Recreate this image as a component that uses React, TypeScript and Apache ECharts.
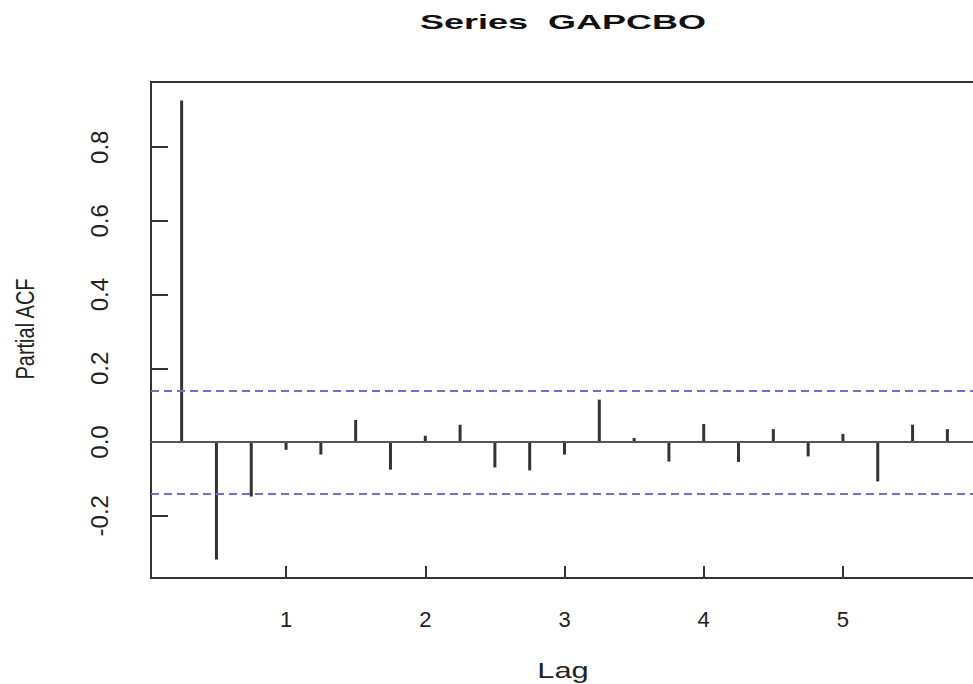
import React, { useEffect, useRef } from "react";
import * as echarts from "echarts";

const lags = [0.25, 0.5, 0.75, 1.0, 1.25, 1.5, 1.75, 2.0, 2.25, 2.5, 2.75, 3.0, 3.25, 3.5, 3.75, 4.0, 4.25, 4.5, 4.75, 5.0, 5.25, 5.5, 5.75];
const pacfValues = [0.927, -0.319, -0.148, -0.021, -0.034, 0.060, -0.075, 0.017, 0.047, -0.069, -0.077, -0.034, 0.115, 0.011, -0.053, 0.049, -0.054, 0.035, -0.039, 0.022, -0.107, 0.047, 0.035];
const confLimit = 0.135;
const xTicks = [1, 2, 3, 4, 5];
const yTicks = [-0.2, 0.0, 0.2, 0.4, 0.6, 0.8];
const titleText = "Series  GAPCBO";
const xName = "Lag";
const yName = "Partial ACF";

export default function App() {
  const ref = useRef<HTMLDivElement>(null);
  useEffect(() => {
    if (!ref.current) return;
    const chart = echarts.init(ref.current, null, { renderer: "svg" });
    const blue = "#6f6fd2";
    const option: any = {
      animation: false,
      backgroundColor: "#ffffff",
      grid: {
        left: 151,
        top: 82,
        width: 827,
        height: 496,
        show: true,
        borderColor: "#333",
        borderWidth: 2,
        backgroundColor: "transparent",
        containLabel: false,
        outerBoundsMode: "none",
      },
      xAxis: {
        type: "value",
        min: 0.03,
        max: 5.97,
        position: "bottom",
        axisLine: { show: true, onZero: false, lineStyle: { color: "#333", width: 2 } },
        splitLine: { show: false },
        axisTick: { show: true, inside: true, length: 12, customValues: xTicks, lineStyle: { color: "#333", width: 2 } },
        axisLabel: {
          customValues: xTicks,
          margin: 30,
          fontSize: 22,
          color: "#222",
          fontFamily: "Liberation Sans, Arial, sans-serif",
          formatter: (v: number) => String(v),
        },
      },
      yAxis: {
        type: "value",
        min: -0.369,
        max: 0.977,
        position: "left",
        axisLine: { show: true, onZero: false, lineStyle: { color: "#333", width: 2 } },
        splitLine: { show: false },
        axisTick: { show: true, inside: true, length: 17, customValues: yTicks, lineStyle: { color: "#333", width: 2 } },
        axisLabel: {
          customValues: yTicks,
          rotate: 90,
          margin: 40,
          fontSize: 24,
          color: "#222",
          fontFamily: "Liberation Sans, Arial, sans-serif",
          formatter: (v: number) => v.toFixed(1),
        },
      },
      series: [
        {
          type: "bar",
          data: lags.map((l, i) => [l, pacfValues[i]]),
          barWidth: 3,
          itemStyle: { color: "#333" },
          z: 3,
          markLine: {
            silent: true,
            symbol: "none",
            label: { show: false },
            data: [
              { yAxis: 0, lineStyle: { type: "solid", color: "#555", width: 2 } },
              { yAxis: confLimit, lineStyle: { type: [8, 5], color: blue, width: 2 } },
              { yAxis: -confLimit, lineStyle: { type: [8, 5], color: blue, width: 2 } },
            ],
          },
        },
      ],
      graphic: [
        {
          type: "text",
          x: 563,
          y: 22,
          scaleX: 1.8,
          style: {
            text: titleText,
            fontSize: 20,
            fontWeight: "bold",
            fontFamily: "Liberation Sans, Arial, sans-serif",
            fill: "#111",
            textAlign: "center",
            textVerticalAlign: "middle",
            align: "center",
            verticalAlign: "middle",
          },
        },
        {
          type: "text",
          x: 563,
          y: 671,
          scaleX: 1.4,
          style: {
            text: xName,
            fontSize: 22,
            fontFamily: "Liberation Sans, Arial, sans-serif",
            fill: "#222",
            textAlign: "center",
            textVerticalAlign: "middle",
            align: "center",
            verticalAlign: "middle",
          },
        },
        {
          type: "text",
          x: 25,
          y: 329,
          rotation: Math.PI / 2,
          scaleY: 1.3,
          style: {
            text: yName,
            fontSize: 20,
            fontFamily: "Liberation Sans, Arial, sans-serif",
            fill: "#222",
            textAlign: "center",
            textVerticalAlign: "middle",
            align: "center",
            verticalAlign: "middle",
          },
        },
      ],
    };
    chart.setOption(option);
    return () => chart.dispose();
  }, []);
  return (
    <div
      ref={ref}
      style={{ position: "absolute", left: 0, top: 0, width: 973, height: 684, background: "#fff" }}
    />
  );
}
